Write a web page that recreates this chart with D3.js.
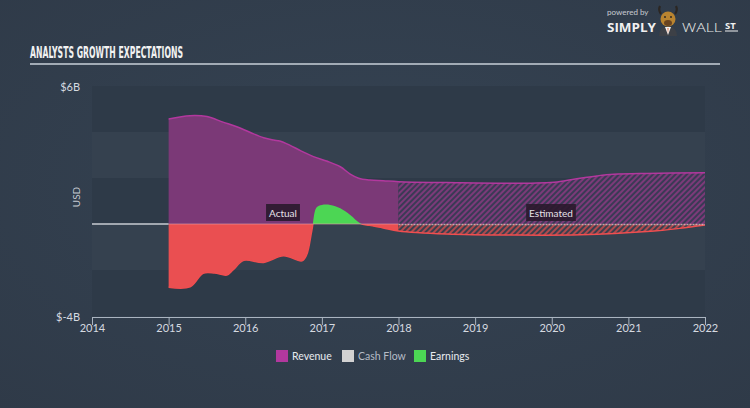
<!DOCTYPE html>
<html><head><meta charset="utf-8">
<script src="https://cdn.jsdelivr.net/npm/d3@7"></script>
<style>
html,body{margin:0;padding:0;background:#333f4e;}
svg{display:block;}
</style></head>
<body>
<svg id="chart" width="750" height="408"></svg>
<script>
// ---- data (USD billions) ----
const xTicks = [2014, 2015, 2016, 2017, 2018, 2019, 2020, 2021, 2022];
const yTickLabels = ["$6B", "$-4B"];
const yDomain = [-4, 6];
const estimateStart = 2018;
const revenueYears = [2015.0, 2015.28, 2015.5, 2015.71, 2015.89, 2016.06, 2016.24, 2016.37, 2016.45, 2016.58, 2016.72, 2016.89, 2017.06, 2017.24, 2017.37, 2017.48, 2017.63, 2017.8, 2018.0, 2018.63, 2019.5, 2020.07, 2020.37, 2020.59, 2020.81, 2021.24, 2022.0];
const revenue = [4.57, 4.71, 4.67, 4.43, 4.23, 3.99, 3.75, 3.65, 3.61, 3.43, 3.19, 2.93, 2.74, 2.49, 2.17, 1.99, 1.91, 1.88, 1.84, 1.80, 1.77, 1.83, 1.99, 2.09, 2.16, 2.20, 2.23];
const earningsYears = [2015.0, 2015.28, 2015.45, 2015.6, 2015.76, 2015.84, 2015.98, 2016.24, 2016.5, 2016.74, 2016.8, 2016.87, 2016.93, 2017.0, 2017.11, 2017.24, 2017.37, 2017.5, 2017.62, 2017.8, 2018.0, 2018.63, 2019.5, 2020.37, 2021.24, 2021.67, 2022.0];
const earnings = [-2.75, -2.73, -2.14, -2.13, -2.22, -2.0, -1.58, -1.67, -1.38, -1.6, -1.35, -0.26, 0.72, 0.83, 0.83, 0.68, 0.39, 0.03, -0.06, -0.17, -0.3, -0.43, -0.48, -0.47, -0.33, -0.19, -0.04];
const legendItems = ["Revenue", "Cash Flow", "Earnings"];
const legendColors = ["#b2389e", "#d2d2d2", "#4cd654"];

const svg = d3.select("#chart");
const W = 750, H = 408;
const L = 92, R = 705, T = 86, B = 316;

// background
const defs = svg.append("defs");
const bg = defs.append("radialGradient").attr("id","bgGrad").attr("cx","50%").attr("cy","45%").attr("r","75%");
bg.append("stop").attr("offset","0%").attr("stop-color","#354353");
bg.append("stop").attr("offset","100%").attr("stop-color","#2f3a48");
svg.append("rect").attr("width",W).attr("height",H).attr("fill","url(#bgGrad)");

const x = d3.scaleLinear().domain([2014, 2022]).range([L, R]);
const y = d3.scaleLinear().domain(yDomain).range([B, T]);

// bands
const bandEdges = d3.range(yDomain[0], yDomain[1], 2);
svg.append("g").selectAll("rect").data(bandEdges).join("rect")
  .attr("x", L).attr("width", R - L)
  .attr("y", d => y(d + 2)).attr("height", d => y(d) - y(d + 2))
  .attr("fill", (d, i) => i % 2 === 0 ? "#2e3a48" : "#35414f");

// patterns for estimates
function hatch(id, base, stripe) {
  const p = defs.append("pattern").attr("id", id).attr("patternUnits","userSpaceOnUse")
    .attr("width", 4).attr("height", 4).attr("patternTransform","rotate(45)");
  p.append("rect").attr("width",4).attr("height",4).attr("fill",base);
  p.append("rect").attr("width",2).attr("height",4).attr("fill",stripe);
}
hatch("hatchRev", "#7c3a79", "#3a3a55");
hatch("hatchEarn", "#b04a4e", "#3a3f4e");

// clips
defs.append("clipPath").attr("id","clipActual").append("rect")
  .attr("x", 0).attr("y", 0).attr("width", x(estimateStart)).attr("height", H);
defs.append("clipPath").attr("id","clipEst").append("rect")
  .attr("x", x(estimateStart)).attr("y", 0).attr("width", W).attr("height", H);
defs.append("clipPath").attr("id","clipPos").append("rect")
  .attr("x", 0).attr("y", 0).attr("width", W).attr("height", y(0));
defs.append("clipPath").attr("id","clipNeg").append("rect")
  .attr("x", 0).attr("y", y(0)).attr("width", W).attr("height", H);

const revData = revenueYears.map((yr, i) => ({yr, v: revenue[i]}));
const earnData = earningsYears.map((yr, i) => ({yr, v: earnings[i]}));
const curve = d3.curveCatmullRom.alpha(0.5);
const area = d3.area().x(d => x(d.yr)).y0(y(0)).y1(d => y(d.v)).curve(curve);
const line = d3.line().x(d => x(d.yr)).y(d => y(d.v)).curve(curve);

// revenue
const gA = svg.append("g").attr("clip-path","url(#clipActual)");
gA.append("path").datum(revData).attr("d", area).attr("fill","#7b3977");
const gE = svg.append("g").attr("clip-path","url(#clipEst)");
gE.append("path").datum(revData).attr("d", area).attr("fill","url(#hatchRev)");
svg.append("path").datum(revData).attr("d", line).attr("fill","none").attr("stroke","#b2389e").attr("stroke-width",1.5);

// earnings
const gEa = svg.append("g").attr("clip-path","url(#clipActual)");
gEa.append("g").attr("clip-path","url(#clipNeg)").append("path").datum(earnData).attr("d", area).attr("fill","#ea4f51");
gEa.append("g").attr("clip-path","url(#clipPos)").append("path").datum(earnData).attr("d", area).attr("fill","#4cd654");
const gEe = svg.append("g").attr("clip-path","url(#clipEst)");
gEe.append("g").attr("clip-path","url(#clipNeg)").append("path").datum(earnData).attr("d", area).attr("fill","url(#hatchEarn)");
svg.append("g").attr("clip-path","url(#clipNeg)").append("path").datum(earnData).attr("d", line)
  .attr("fill","none").attr("stroke","#f04e50").attr("stroke-width",1.5);

// zero line
svg.append("line").attr("x1", L).attr("x2", x(revenueYears[0])).attr("y1", y(0)).attr("y2", y(0))
  .attr("stroke","#c8ccd2").attr("stroke-width",1.5);
svg.append("line").attr("x1", x(revenueYears[0])).attr("x2", x(estimateStart)).attr("y1", y(0)).attr("y2", y(0))
  .attr("stroke","#e8a0a8").attr("stroke-width",1).attr("opacity",0.6);
svg.append("line").attr("x1", x(estimateStart)).attr("x2", R).attr("y1", y(0)+0.5).attr("y2", y(0)+0.5)
  .attr("stroke","#d8c0c8").attr("stroke-width",1.5).attr("stroke-dasharray","2,1").attr("opacity",0.8);

// labels Actual / Estimated
function tag(txt, cx) {
  const g = svg.append("g");
  const t = g.append("text").attr("x", cx).attr("y", y(0) - 11).attr("text-anchor","middle")
    .attr("dominant-baseline","central").attr("font-family","Lato, 'Open Sans', sans-serif")
    .attr("font-size", 10).attr("fill","#e6e2e8").text(txt);
  const bb = t.node().getBBox();
  g.insert("rect","text").attr("x", bb.x - 3).attr("y", y(0) - 20).attr("width", bb.width + 6).attr("height", 17)
    .attr("fill","#2a1a2c").attr("opacity",0.9);
}
tag("Actual", 283);
tag("Estimated", 551);

// x axis
const xAxis = d3.axisBottom(x).tickValues(xTicks).tickFormat(d3.format("d")).tickSize(8).tickSizeOuter(0).tickPadding(-1);
const ax = svg.append("g").attr("transform", `translate(0,${B + 1})`).call(xAxis);
ax.select(".domain").attr("stroke","#aab4c0").attr("stroke-width",1.2);
ax.selectAll(".tick line").attr("stroke","#aab4c0");
ax.selectAll(".tick text").attr("fill","#d6dae0").attr("font-size",11).attr("font-family","Lato, 'Open Sans', sans-serif");

// y labels
svg.append("text").attr("x", 80).attr("y", T).attr("text-anchor","end").attr("dominant-baseline","central")
  .attr("font-family","Lato, 'Open Sans', sans-serif").attr("font-size",11).attr("fill","#d6dae0").text(yTickLabels[0]);
svg.append("text").attr("x", 80).attr("y", B).attr("text-anchor","end").attr("dominant-baseline","central")
  .attr("font-family","Lato, 'Open Sans', sans-serif").attr("font-size",11).attr("fill","#d6dae0").text(yTickLabels[1]);
svg.append("text").attr("transform", `translate(76,${(T + B) / 2 - 4}) rotate(-90)`).attr("text-anchor","middle")
  .attr("dominant-baseline","central").attr("font-family","Lato, 'Open Sans', sans-serif").attr("font-size",10)
  .attr("fill","#c6cbd2").text("USD");

// title
svg.append("text").attr("x", 30).attr("y", 58).attr("font-family","'DejaVu Sans Condensed', 'Liberation Sans Narrow', sans-serif")
  .attr("font-weight","bold").attr("font-size",15.5).attr("fill","#f2f2f2")
  .attr("textLength",153).attr("lengthAdjust","spacingAndGlyphs").text("ANALYSTS GROWTH EXPECTATIONS");
svg.append("line").attr("x1",30).attr("x2",720).attr("y1",64).attr("y2",64).attr("stroke","#c9d0d8").attr("stroke-width",1.5);

// logo
const lg = svg.append("g");
lg.append("text").attr("x",607).attr("y",15).attr("font-family","Lato, sans-serif").attr("font-size",8).attr("fill","#c8ccd2").text("powered by");
lg.append("text").attr("x",607).attr("y",31.5).attr("font-family","'Open Sans', sans-serif").attr("font-weight","bold").attr("font-size",12.5).attr("fill","#f0f0f0")
  .attr("textLength",49).attr("lengthAdjust","spacingAndGlyphs").text("SIMPLY");
// suit
lg.append("path").attr("d","M659,36 q0,-9 9,-10 q9,1 9,10 z").attr("fill","#3d4046");
lg.append("path").attr("d","M665,27 l3,8 l3,-8 z").attr("fill","#f2f2f2");
lg.append("path").attr("d","M667.5,28 l0.5,6 l0.5,-6 z").attr("fill","#e0561e");
// horns
lg.append("path").attr("d","M661,14 q-3,-4 -1,-8 M675,14 q3,-4 1,-8").attr("stroke","#2b2622").attr("stroke-width",2.2).attr("fill","none");
// head
lg.append("ellipse").attr("cx",668).attr("cy",19).attr("rx",7.5).attr("ry",7.5).attr("fill","#b98430");
lg.append("ellipse").attr("cx",668).attr("cy",23).attr("rx",4).attr("ry",3).attr("fill","#6a4420");
lg.append("circle").attr("cx",665).attr("cy",17).attr("r",0.9).attr("fill","#222");
lg.append("circle").attr("cx",671).attr("cy",17).attr("r",0.9).attr("fill","#222");
lg.append("text").attr("x",682).attr("y",31.5).attr("font-family","'Open Sans', sans-serif").attr("font-weight","300").attr("font-size",12.5).attr("fill","#e8e8e8")
  .attr("textLength",40).attr("lengthAdjust","spacingAndGlyphs").text("WALL");
lg.append("text").attr("x",725).attr("y",29).attr("font-family","'Open Sans', sans-serif").attr("font-weight","bold").attr("font-size",9.5).attr("fill","#f0f0f0").text("ST");
lg.append("line").attr("x1",725).attr("x2",738).attr("y1",31).attr("y2",31).attr("stroke","#f0f0f0").attr("stroke-width",1);

// legend
const legX = [276, 342, 414];
const leg = svg.append("g");
legendItems.forEach((name, i) => {
  leg.append("rect").attr("x", legX[i]).attr("y", 350).attr("width", 12).attr("height", 12).attr("fill", legendColors[i]);
  leg.append("text").attr("x", legX[i] + 16).attr("y", 356).attr("dominant-baseline","central")
    .attr("font-family","Lato, 'Open Sans', sans-serif").attr("font-size",10.5)
    .attr("fill", i === 1 ? "#b5bcc6" : "#e8ebef").text(name);
});
</script>
</body></html>
